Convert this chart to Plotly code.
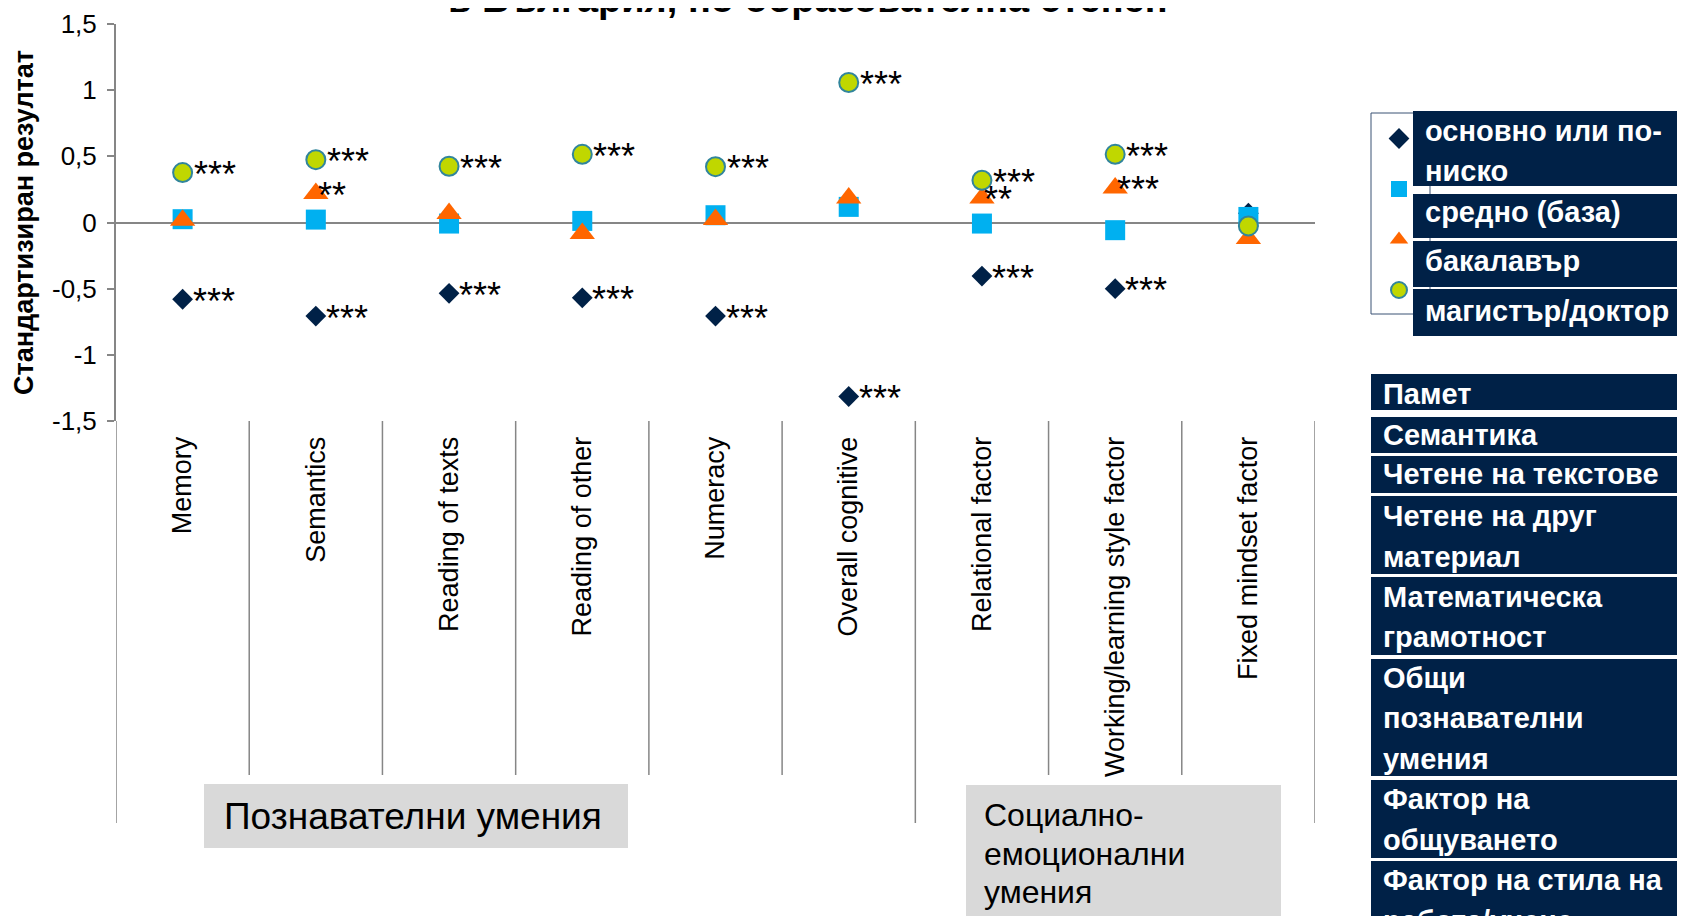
import plotly.graph_objects as go

# ---------------- data ----------------
categories = ["Memory", "Semantics", "Reading of texts", "Reading of other", "Numeracy",
              "Overall cognitive", "Relational factor", "Working/learning style factor",
              "Fixed mindset factor"]
series_names = ["основно или по-ниско", "средно (база)", "бакалавър", "магистър/доктор"]
basic_or_lower = [-0.58, -0.707, -0.535, -0.569, -0.707, -1.315, -0.405, -0.50, 0.07]
secondary_base = [0.025, 0.022, -0.008, 0.012, 0.055, 0.118, -0.008, -0.058, 0.042]
bachelor = [0.017, 0.219, 0.068, -0.083, 0.023, 0.186, 0.186, 0.261, -0.12]
master_doctor = [0.377, 0.475, 0.425, 0.515, 0.422, 1.058, 0.319, 0.515, -0.026]
stars_basic = ["***", "***", "***", "***", "***", "***", "***", "***", ""]
stars_secondary = ["", "", "", "", "", "", "", "", ""]
stars_bachelor = ["", "**", "", "", "", "", "**", "***", ""]
stars_master = ["***", "***", "***", "***", "***", "***", "***", "***", ""]
y_tickvals = [1.5, 1, 0.5, 0, -0.5, -1, -1.5]
y_ticktext = ["1,5", "1", "0,5", "0", "-0,5", "-1", "-1,5"]
groups = ["Познавателни умения", "Социално-<br>емоционални<br>умения"]
group_sizes = [6, 3]
category_labels_bg = ["Памет", "Семантика", "Четене на текстове", "Четене на друг<br>материал",
                      "Математическа<br>грамотност", "Общи<br>познавателни<br>умения",
                      "Фактор на<br>общуването", "Фактор на стила на<br>работа/учене"]
legend_labels_bg = ["основно или по-<br>ниско", "средно (база)", "бакалавър", "магистър/доктор"]
title_text = "в България, по образователна степен"
y_title = "Стандартизиран резултат"

# ---------------- geometry (screen px; page body adds an 8px offset) ----------------
W, H = 1685, 916
OFF = 8
ML, MR, MT, MB = 108, 378, 16, 503
PW, PH = W - ML - MR, H - MT - MB
FONT = "Liberation Sans, Arial, sans-serif"
NAVY = "#002147"
GRAY = "#868686"


def px_x(px):
    return (px - OFF - ML) / PW


def px_y(py):
    return 1 - (py - OFF - MT) / PH


values = [basic_or_lower, secondary_base, bachelor, master_doctor]
stars = [stars_basic, stars_secondary, stars_bachelor, stars_master]
styles = [
    dict(symbol="diamond", size=16, color=NAVY, line=dict(width=0)),
    dict(symbol="square", size=20, color="#00B0F0", line=dict(width=0)),
    dict(symbol="triangle-up", size=22, color="#FF6600", line=dict(width=0)),
    dict(symbol="circle", size=19, color="#C0D700", line=dict(width=2, color="#31859C")),
]
star_shift = [(8, -2), (8, -2), (0, -2), (9, -2)]

fig = go.Figure()
for k in range(4):
    fig.add_trace(go.Scatter(x=categories, y=values[k], mode="markers", name=series_names[k],
                             marker=styles[k], legendgroup=str(k), cliponaxis=False))

annotations = []
for k in range(4):
    for i, s in enumerate(stars[k]):
        if s:
            annotations.append(dict(x=categories[i], y=values[k][i], xref="x", yref="y", text=s,
                                    showarrow=False, xanchor="left", yanchor="middle",
                                    xshift=star_shift[k][0], yshift=star_shift[k][1],
                                    font=dict(family=FONT, size=36, color="black")))


def text_lines(label, x, y_first, step, size, color, bold, anchor="left"):
    for j, line in enumerate(label.split("<br>")):
        annotations.append(dict(x=px_x(x), y=px_y(y_first + j * step), xref="paper", yref="paper",
                                text=line, showarrow=False, xanchor=anchor, yanchor="middle",
                                font=dict(family=FONT, size=size, color=color,
                                          weight="bold" if bold else "normal")))


shapes = []
# category separators in the label area
bounds = [0]
for g in group_sizes:
    bounds.append(bounds[-1] + g)
for b in range(len(categories) + 1):
    bottom = 823 if b in bounds else 775
    shapes.append(dict(type="line", xref="x", yref="paper", x0=b - 0.5, x1=b - 0.5,
                       y0=0, y1=px_y(bottom), line=dict(color=GRAY, width=1.5)))

# group label boxes
shapes.append(dict(type="rect", xref="paper", yref="paper", x0=px_x(204), x1=px_x(628),
                   y0=px_y(784), y1=px_y(848), fillcolor="#D9D9D9", line=dict(width=0)))
shapes.append(dict(type="rect", xref="paper", yref="paper", x0=px_x(966), x1=px_x(1281),
                   y0=px_y(785), y1=px_y(940), fillcolor="#D9D9D9", line=dict(width=0)))
text_lines(groups[0], 413, 816, 0, 37, "black", False, anchor="center")
text_lines(groups[1], 982, 815, 38.6, 32, "black", False)

# legend frame
shapes.append(dict(type="rect", xref="paper", yref="paper", x0=px_x(1371), x1=px_x(1430),
                   y0=px_y(314), y1=px_y(113), line=dict(color="#3B5374", width=1)))
# legend label boxes
leg_boxes = [(111, 186), (194, 238), (241, 287), (289, 336)]
leg_text_y = [131, 212, 261, 310.5]
for (t, b), ty, lab in zip(leg_boxes, leg_text_y, legend_labels_bg):
    shapes.append(dict(type="rect", xref="paper", yref="paper", x0=px_x(1413), x1=px_x(1720),
                       y0=px_y(b), y1=px_y(t), fillcolor=NAVY, line=dict(width=0)))
    text_lines(lab, 1423, ty, 40, 29, "white", True)

# category translation boxes
cat_boxes = [(374, 410), (417, 453), (456, 493), (496, 574), (577, 655), (659, 776),
             (780, 858), (861, 960)]
cat_text_y = [393.5, 434.5, 474.5, 516, 596.5, 677.5, 799, 880]
for (t, b), ty, lab in zip(cat_boxes, cat_text_y, category_labels_bg):
    shapes.append(dict(type="rect", xref="paper", yref="paper", x0=px_x(1371), x1=px_x(1720),
                       y0=px_y(b), y1=px_y(t), fillcolor=NAVY, line=dict(width=0)))
    text_lines(lab, 1381, ty, 40.5, 29, "white", True)

# chart title (only its lower part is visible in the frame)
annotations.append(dict(x=px_x(807.5), y=px_y(-1.5), xref="paper", yref="paper", text=title_text,
                        showarrow=False, xanchor="center", yanchor="middle",
                        font=dict(family=FONT, size=38, color="black", weight="bold")))

fig.update_layout(
    template="none",
    width=W, height=H,
    margin=dict(l=ML, r=MR, t=MT, b=MB, autoexpand=False),
    paper_bgcolor="white", plot_bgcolor="white",
    showlegend=True,
    legend=dict(x=px_x(1379), y=px_y(124), xanchor="left", yanchor="top",
                bgcolor="rgba(0,0,0,0)", borderwidth=0, tracegroupgap=31.5,
                font=dict(family=FONT, size=2, color="rgba(0,0,0,0)"), itemsizing="trace"),
    xaxis=dict(type="category", categoryorder="array", categoryarray=categories,
               range=[-0.5, len(categories) - 0.5], showgrid=False, zeroline=False,
               showline=False, ticks="outside", ticklen=4, tickcolor="rgba(0,0,0,0)",
               tickangle=-90, tickfont=dict(family=FONT, size=27, color="black")),
    xaxis2=dict(overlaying="x", anchor="free", position=0.5, range=[-0.5, len(categories) - 0.5],
                tickmode="array", tickvals=[b - 0.5 for b in range(len(categories) + 1)],
                ticks="outside", ticklen=7, tickwidth=2, tickcolor=GRAY, showticklabels=False,
                showgrid=False, zeroline=False, showline=False),
    yaxis=dict(range=[-1.5, 1.5], tickmode="array", tickvals=y_tickvals, ticktext=y_ticktext,
               ticks="outside", ticklen=7, tickwidth=2, tickcolor=GRAY, ticklabelstandoff=5,
               showline=True, linecolor=GRAY, linewidth=2, showgrid=False,
               zeroline=True, zerolinecolor=GRAY, zerolinewidth=2,
               tickfont=dict(family=FONT, size=26, color="black"),
               title=dict(text=y_title, standoff=11,
                          font=dict(family=FONT, size=27, color="black", weight="bold"))),
    shapes=shapes,
    annotations=annotations,
)

fig.write_html("out.html")
